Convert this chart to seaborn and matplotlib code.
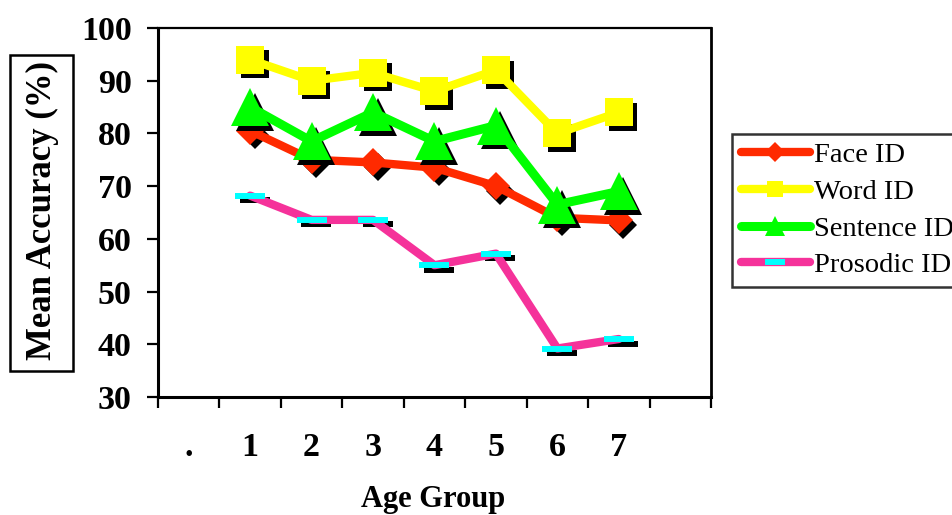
import matplotlib
matplotlib.use("Agg")
import matplotlib.pyplot as plt
import matplotlib.transforms as mtransforms
from matplotlib.lines import Line2D
from matplotlib.patches import Rectangle
import seaborn as sns
import pandas as pd

# ---- data ----
categories = [".", "1", "2", "3", "4", "5", "6", "7", ""]
age_groups = [1, 2, 3, 4, 5, 6, 7]
face_id = [80.5, 75.0, 74.5, 73.5, 70.0, 64.0, 63.5]
word_id = [94.0, 90.0, 91.5, 88.0, 92.0, 80.0, 84.0]
sentence_id = [85.0, 78.5, 84.0, 78.5, 81.5, 66.5, 69.0]
prosodic_id = [68.2, 63.6, 63.6, 55.0, 57.2, 39.2, 41.0]
series_names = ["Face ID", "Word ID", "Sentence ID", "Prosodic ID"]
y_ticks = [30, 40, 50, 60, 70, 80, 90, 100]

sns.set_style("ticks")
plt.rcParams["font.family"] = ["Liberation Serif", "DejaVu Serif"]
for key in ["text.color", "axes.labelcolor", "xtick.color", "ytick.color", "axes.edgecolor"]:
    plt.rcParams[key] = "black"

fig = plt.figure(figsize=(9.53, 5.15), dpi=100)
ax = fig.add_axes([158 / 953, 1 - 397 / 515, 553 / 953, 369 / 515])

styles = {
    "Face ID": dict(color="#FF2A00", marker="D", ms=14, mew=0, mfc="#FF2A00", lw=6),
    "Word ID": dict(color="#FFFF00", marker="s", ms=19.5, mew=0, mfc="#FFFF00", lw=6),
    "Sentence ID": dict(color="#00FF00", marker="^", ms=27, mew=0, mfc="#00FF00", lw=6.5),
    "Prosodic ID": dict(color="#F5329A", marker="_", ms=21, mew=4.3, mfc="#00FFFF", lw=6),
}
legend_ms = {"Face ID": 10, "Word ID": 12, "Sentence ID": 15, "Prosodic ID": 14}

data = {"Face ID": face_id, "Word ID": word_id,
        "Sentence ID": sentence_id, "Prosodic ID": prosodic_id}

shadow = ax.transData + mtransforms.ScaledTranslation(4.5 / 100, -4.5 / 100, fig.dpi_scale_trans)

handles = []
for i, name in enumerate(series_names):
    st = styles[name]
    df = pd.DataFrame({"group": age_groups, "acc": data[name]})
    # shadow markers
    sns.lineplot(data=df, x="group", y="acc", ax=ax, linestyle="none",
                 marker=st["marker"], markersize=st["ms"], markerfacecolor="black",
                 markeredgecolor="black", markeredgewidth=st["mew"] if st["marker"] == "_" else 0,
                 color="black", transform=shadow, zorder=2 + 3 * i, legend=False)
    # main line with markers
    mec = st["mfc"] if st["marker"] == "_" else "none"
    sns.lineplot(data=df, x="group", y="acc", ax=ax, color=st["color"], linewidth=st["lw"],
                 marker=st["marker"], markersize=st["ms"], markerfacecolor=st["mfc"],
                 markeredgecolor=mec, markeredgewidth=st["mew"],
                 zorder=3 + 3 * i, legend=False)
    handles.append(Line2D([], [], color=st["color"], lw=st["lw"], marker=st["marker"],
                          markersize=legend_ms[name], markerfacecolor=st["mfc"],
                          markeredgecolor=mec,
                          markeredgewidth=st["mew"] if st["marker"] == "_" else 0))

ax.set_xlim(-0.5, len(categories) - 0.5)
ax.set_ylim(30, 100)
ax.set_yticks(y_ticks)
ax.set_yticklabels([str(v) for v in y_ticks], fontsize=24.5, fontweight="bold")
ax.tick_params(axis="y", direction="out", length=8, width=1.6, pad=11, color="black")

ax.set_xticks([k - 0.5 for k in range(len(categories) + 1)])
ax.set_xticklabels([])
ax.set_xticks(list(range(len(categories))), minor=True)
ax.set_xticklabels(categories, minor=True, fontsize=24.5, fontweight="bold")
ax.tick_params(axis="x", which="major", direction="out", length=8, width=1.6, color="black")
ax.tick_params(axis="x", which="minor", length=0, pad=25)

for side, w in {"left": 2.2, "bottom": 2.2, "top": 1.6, "right": 2.0}.items():
    ax.spines[side].set_visible(True)
    ax.spines[side].set_linewidth(w)
    ax.spines[side].set_color("black")

ax.set_ylabel("")
ax.set_xlabel("Age Group", fontsize=22, fontweight="bold", va="center")
ax.xaxis.set_label_coords((433 - 158) / 553, -(499 - 397) / 369)

# boxed y label
fig.patches.append(Rectangle((10 / 953, 1 - 371 / 515), 63 / 953, 316 / 515,
                             transform=fig.transFigure, fill=False, lw=1.8,
                             edgecolor="black"))
fig.text(42 / 953, 1 - 211 / 515, "Mean Accuracy (%)", rotation=90, fontsize=25,
         fontweight="bold", ha="center", va="center")

leg = fig.legend(handles, series_names, loc="lower left",
                 bbox_to_anchor=(732 / 953, 1 - 287 / 515), bbox_transform=fig.transFigure,
                 fontsize=20.5, frameon=True, fancybox=False, borderaxespad=0,
                 handlelength=2.45, handletextpad=0.12, labelspacing=0.38, borderpad=0.3)
leg.get_frame().set_edgecolor("black")
leg.get_frame().set_linewidth(1.8)
for t in leg.get_texts():
    t.set_color("black")

fig.savefig("out.png", dpi=100)
